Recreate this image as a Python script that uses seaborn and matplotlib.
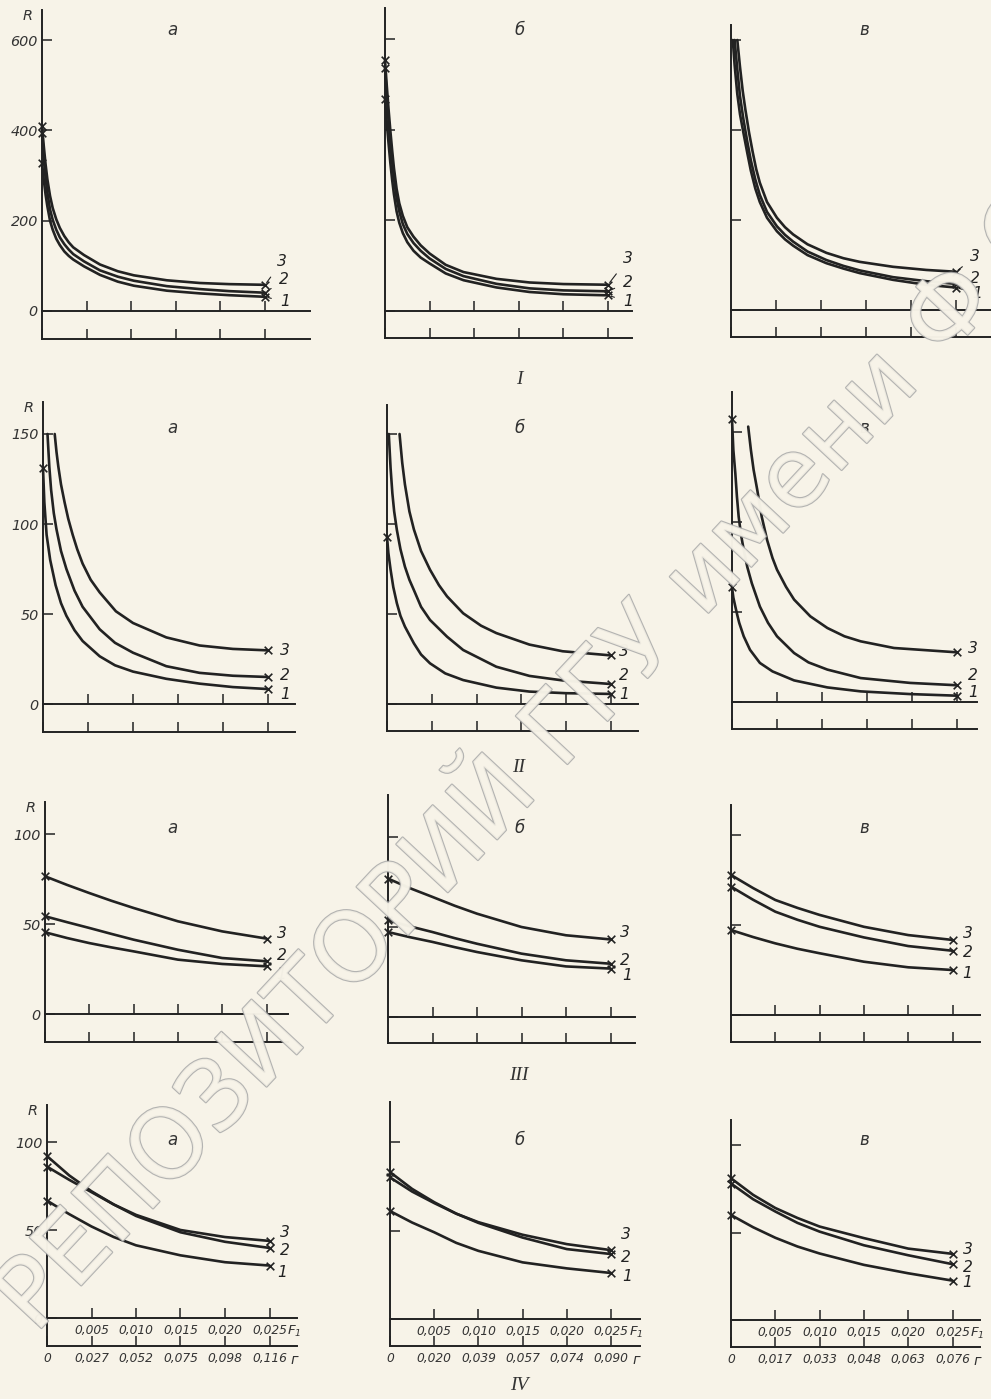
import matplotlib
matplotlib.use("Agg")
import matplotlib.pyplot as plt
import matplotlib.patheffects as pe
from matplotlib import font_manager
import pandas as pd
import seaborn as sns

# ---------------- data ----------------
# panel I
I_A_F = [0, 0.0002, 0.0004, 0.0006, 0.0009, 0.0012, 0.0016, 0.002, 0.0025, 0.003, 0.0035,
         0.0047, 0.0065, 0.0085, 0.0103, 0.014, 0.0177, 0.021, 0.025]
I_A_R1 = [328, 290, 258, 232, 200, 180, 160, 146, 132, 122, 114, 99, 80, 65, 56, 45, 39, 35, 31.5]
I_A_R2 = [395, 340, 295, 262, 225, 202, 180, 163, 148, 136, 126, 110, 90, 76, 67, 55, 48.5, 44, 40.5]
I_A_R3 = [410, 365, 325, 292, 255, 228, 203, 184, 166, 152, 141, 124, 103, 88, 79, 68, 62, 59.5, 58]

I_B_F = [0, 0.0002, 0.0004, 0.0006, 0.0008, 0.001, 0.0013, 0.0016, 0.002, 0.0025, 0.0032,
         0.004, 0.005, 0.0068, 0.0088, 0.0125, 0.0162, 0.020, 0.025]
I_B_R1 = [469, 415, 370, 327, 290, 258, 220, 195, 172, 152, 133, 118, 105, 83, 68, 52, 42, 37, 34.6]
I_B_R2 = [536, 475, 420, 372, 330, 293, 250, 220, 192, 170, 150, 133, 116, 93, 77, 60, 50, 45.5, 43.5]
I_B_R3 = [554, 497, 445, 398, 355, 316, 270, 238, 210, 185, 164, 145, 127, 102, 86, 71, 63, 59.5, 58]

I_V_F1 = [0.0002, 0.0004, 0.0007, 0.001, 0.00137, 0.0018, 0.0022, 0.0027, 0.0032, 0.004,
          0.0051, 0.006, 0.0069, 0.0085, 0.0106, 0.0125, 0.0143, 0.018, 0.0217, 0.025]
I_V_R1 = [600, 545, 480, 435, 395, 350, 310, 270, 240, 205, 175, 157, 143, 122, 104, 92, 82, 67, 56, 50]
I_V_F2 = [0.0004, 0.0007, 0.001, 0.00137, 0.0018, 0.0022, 0.0027, 0.0032, 0.004, 0.0051,
          0.006, 0.0069, 0.0085, 0.0106, 0.0125, 0.0143, 0.018, 0.0217, 0.025]
I_V_R2 = [600, 535, 475, 425, 375, 333, 290, 256, 218, 186, 167, 152, 130, 111, 98, 88, 73, 64, 58]
I_V_F3 = [0.0007, 0.001, 0.0013, 0.0016, 0.002, 0.0024, 0.0028, 0.0032, 0.004, 0.0051,
          0.006, 0.0069, 0.0085, 0.0106, 0.0125, 0.0143, 0.018, 0.0217, 0.025]
I_V_R3 = [600, 540, 487, 445, 395, 352, 313, 283, 240, 205, 184, 168, 146, 127, 115, 107, 96, 89, 85]

# panel II
II_A_F1 = [0, 0.00015, 0.0004, 0.0008, 0.0014, 0.002, 0.0026, 0.0035, 0.0044, 0.0063, 0.008,
           0.010, 0.0137, 0.0174, 0.0211, 0.025]
II_A_R1 = [131, 112, 94, 80, 66, 56, 49, 41, 35, 26.5, 21.5, 18, 14, 11.3, 9.4, 8.3]
II_A_F2 = [0.0005, 0.0007, 0.0009, 0.0012, 0.0015, 0.002, 0.0026, 0.0035, 0.0044, 0.0063,
           0.008, 0.010, 0.0137, 0.0174, 0.0211, 0.025]
II_A_R2 = [150, 132, 119, 106, 97, 85, 75, 63, 54, 41.5, 34, 28.5, 21, 17.3, 15.7, 15]
II_A_F3 = [0.0013, 0.0015, 0.0017, 0.002, 0.0024, 0.0028, 0.0033, 0.0038, 0.0044, 0.0053,
           0.0063, 0.0081, 0.010, 0.0137, 0.0174, 0.0211, 0.025]
II_A_R3 = [150, 140, 132, 122, 112, 103, 94, 86, 78, 69, 62, 51.5, 45, 37, 32.5, 30.6, 29.8]

II_B_F1 = [0, 0.00015, 0.0004, 0.0007, 0.0011, 0.0015, 0.002, 0.003, 0.0038, 0.0048, 0.0065,
           0.0085, 0.0122, 0.0159, 0.020, 0.025]
II_B_R1 = [93, 84, 74.6, 65, 56, 49, 43, 33.7, 27.5, 22.6, 17, 13.3, 9.1, 6.9, 6, 5.6]
II_B_F2 = [0.0002, 0.0004, 0.0006, 0.0008, 0.0011, 0.0015, 0.002, 0.0025, 0.003, 0.0038,
           0.0048, 0.0067, 0.0085, 0.0122, 0.0159, 0.0196, 0.025]
II_B_R2 = [150, 131, 117, 107, 96.7, 86, 76.3, 69, 63.3, 54, 46.7, 37.4, 30, 20.7, 15.6, 13.1, 11.1]
II_B_F3 = [0.0014, 0.0017, 0.002, 0.0025, 0.003, 0.0038, 0.0048, 0.0058, 0.0067, 0.0085,
           0.0105, 0.0122, 0.0159, 0.0196, 0.025]
II_B_R3 = [150, 134, 122, 107, 97, 85, 74.6, 66, 59.8, 50.4, 43.5, 39.4, 33, 29.3, 27]

II_V_F1 = [0, 0.00015, 0.00037, 0.0006, 0.0008, 0.0013, 0.002, 0.0031, 0.0045, 0.0069,
           0.0106, 0.0143, 0.0198, 0.025]
II_V_R1 = [63.7, 58, 53, 48, 44, 36.5, 29, 21.7, 17, 12, 8.1, 5.9, 4.4, 3.5]
II_V_F2 = [0, 0.00015, 0.00037, 0.00055, 0.00074, 0.001, 0.0013, 0.0017, 0.0022, 0.0031,
           0.004, 0.005, 0.0069, 0.0085, 0.0106, 0.0143, 0.0198, 0.025]
II_V_R2 = [157, 140, 127, 114, 103, 93, 84.6, 75, 66, 53, 44, 36.5, 27.2, 22, 18, 13.3, 10.6, 9.3]
II_V_F3 = [0.0018, 0.0021, 0.0024, 0.0028, 0.0033, 0.0039, 0.0045, 0.005, 0.006, 0.0069,
           0.0087, 0.0106, 0.0125, 0.0143, 0.018, 0.025]
II_V_R3 = [153, 140, 129, 118, 103, 90, 80, 73.5, 64, 56.9, 47.6, 41.1, 36.5, 33.7, 30, 27.6]

# panels III and IV share one F grid
F_GRID = [0, 0.0025, 0.005, 0.0075, 0.010, 0.015, 0.020, 0.025]
III_A_R1 = [45.4, 42.2, 39.4, 37, 34.8, 30.2, 27.8, 26.5]
III_A_R2 = [54.3, 51, 47.8, 44.5, 41.3, 35.7, 31.1, 29.3]
III_A_R3 = [76.5, 71.7, 67.2, 62.9, 58.9, 51.5, 45.9, 41.9]
III_B_R1 = [47.2, 44.3, 41.7, 38.8, 36.1, 31.5, 28.1, 26.9]
III_B_R2 = [53.7, 50.3, 47.2, 43.8, 40.7, 35.2, 31.5, 29.6]
III_B_R3 = [76.9, 71.5, 66.7, 61.8, 57.4, 50, 45.4, 43.1]
III_V_R1 = [47.2, 43.3, 39.8, 36.8, 34.3, 29.6, 26.5, 25]
III_V_R2 = [71.3, 64, 57.4, 52.9, 49, 43.1, 38.3, 35.7]
III_V_R3 = [77.8, 70.5, 63.9, 59.5, 55.6, 49, 44.4, 41.7]

IV_A_R1 = [66.7, 59, 52, 46, 41.3, 35.6, 31.7, 29.8]
IV_A_R2 = [92, 81, 72, 64.5, 58, 48.7, 43.3, 39.8]
IV_A_R3 = [86, 78.5, 71.5, 64.5, 58.6, 50, 46, 43.8]
IV_B_R1 = [61, 54.5, 49, 43, 38.5, 32, 28.6, 26]
IV_B_R2 = [83, 73.5, 66, 59.5, 54.3, 46, 39.5, 36.7]
IV_B_R3 = [80, 72, 65.5, 59.5, 54.7, 47.6, 42.3, 38.9]
IV_V_R1 = [60, 53, 47, 42, 38, 31.5, 26.7, 22.5]
IV_V_R2 = [78, 69, 62, 55.5, 50.5, 42.7, 37, 31.9]
IV_V_R3 = [81, 71.5, 64, 58.3, 53.4, 46.8, 40.8, 37.8]

F_TICKS = [0.005, 0.010, 0.015, 0.020, 0.025]
F_LABELS = ["0,005", "0,010", "0,015", "0,020", "0,025"]
G_LABELS_A = ["0", "0,027", "0,052", "0,075", "0,098", "0,116"]
G_LABELS_B = ["0", "0,020", "0,039", "0,057", "0,074", "0,090"]
G_LABELS_V = ["0", "0,017", "0,033", "0,048", "0,063", "0,076"]

ROW_YTICKS = {"I": [0, 200, 400, 600], "II": [0, 50, 100, 150], "III": [0, 50, 100], "IV": [0, 50, 100]}
LETTERS = {"a": "а", "b": "б", "v": "в"}

PANELS = [
    ("I", "a", [(I_A_F, I_A_R1), (I_A_F, I_A_R2), (I_A_F, I_A_R3)]),
    ("I", "b", [(I_B_F, I_B_R1), (I_B_F, I_B_R2), (I_B_F, I_B_R3)]),
    ("I", "v", [(I_V_F1, I_V_R1), (I_V_F2, I_V_R2), (I_V_F3, I_V_R3)]),
    ("II", "a", [(II_A_F1, II_A_R1), (II_A_F2, II_A_R2), (II_A_F3, II_A_R3)]),
    ("II", "b", [(II_B_F1, II_B_R1), (II_B_F2, II_B_R2), (II_B_F3, II_B_R3)]),
    ("II", "v", [(II_V_F1, II_V_R1), (II_V_F2, II_V_R2), (II_V_F3, II_V_R3)]),
    ("III", "a", [(F_GRID, III_A_R1), (F_GRID, III_A_R2), (F_GRID, III_A_R3)]),
    ("III", "b", [(F_GRID, III_B_R1), (F_GRID, III_B_R2), (F_GRID, III_B_R3)]),
    ("III", "v", [(F_GRID, III_V_R1), (F_GRID, III_V_R2), (F_GRID, III_V_R3)]),
    ("IV", "a", [(F_GRID, IV_A_R1), (F_GRID, IV_A_R2), (F_GRID, IV_A_R3)]),
    ("IV", "b", [(F_GRID, IV_B_R1), (F_GRID, IV_B_R2), (F_GRID, IV_B_R3)]),
    ("IV", "v", [(F_GRID, IV_V_R1), (F_GRID, IV_V_R2), (F_GRID, IV_V_R3)]),
]

# ---------------- layout (pixels of the 991x1399 page) ----------------
W, H = 991, 1399
# x0, xend, ytop, yzero, ylow, px per 0.005 of F, px per unit of R
GEOM = {
    ("I", "a"): (42, 310, 10, 311, 339, 44.6, 90.3 / 200),
    ("I", "b"): (385, 632, 8, 311, 338, 44.6, 0.4528),
    ("I", "v"): (731, 995, 25, 310, 337, 45.0, 0.45),
    ("II", "a"): (43, 295, 402, 704, 732, 45.0, 1.8),
    ("II", "b"): (387, 638, 405, 704, 731, 44.8, 1.8),
    ("II", "v"): (732, 977, 392, 702, 729, 45.0, 1.8),
    ("III", "a"): (45, 288, 802, 1014, 1042, 44.3, 1.8),
    ("III", "b"): (388, 635, 795, 1017, 1043, 44.5, 1.8),
    ("III", "v"): (731, 980, 805, 1015, 1042, 44.3, 1.8),
    ("IV", "a"): (47, 297, 1105, 1318, 1346, 44.5, 1.76),
    ("IV", "b"): (390, 640, 1102, 1319, 1346, 44.2, 1.77),
    ("IV", "v"): (731, 980, 1120, 1320, 1347, 44.3, 1.75),
}
LETTER_POS = {"I": 30, "II": 428, "III": 828, "IV": 1140}
LETTER_X = {"a": 172, "b": 520, "v": 864}
ROMAN_POS = {"I": 380, "II": 768, "III": 1076, "IV": 1386}
# curve-number offsets from the end cross, px (dx, dy downwards), curves 1..3
NUM_OFF = {
    ("I", "a"): [(15, 5), (14, -13), (12, -23)],
    ("I", "b"): [(15, 6), (15, -9), (15, -26)],
    ("I", "v"): [(16, 6), (14, -5), (14, -15)],
    ("II", "a"): [(12, 5), (12, -2), (12, 0)],
    ("II", "b"): [(8, 1), (8, -9), (8, -4)],
    ("II", "v"): [(11, -3), (11, -10), (11, -4)],
    ("III", "a"): [(10, 8), (10, -6), (10, -5)],
    ("III", "b"): [(12, 7), (9, -3), (9, -7)],
    ("III", "v"): [(10, 3), (10, 2), (10, -6)],
    ("IV", "a"): [(8, 7), (10, 3), (10, -8)],
    ("IV", "b"): [(11, 4), (10, 3), (10, -16)],
    ("IV", "v"): [(10, 2), (10, 3), (10, -4)],
}

PAPER = "#f7f3e8"
INK = "#222222"
PT = 72 / 100  # points per pixel at dpi 100

sns.set_theme(style="white")
names = {f.name for f in font_manager.fontManager.ttflist}
if "Liberation Sans Narrow" in names:
    SANS = ["Liberation Sans Narrow", "DejaVu Sans"]
    K = 1.0
else:
    SANS = ["DejaVu Sans"]
    K = 0.8
plt.rcParams["font.family"] = SANS
plt.rcParams["font.style"] = "italic"
plt.rcParams["mathtext.fontset"] = "dejavusans"

fig = plt.figure(figsize=(W / 100, H / 100), dpi=100, facecolor=PAPER)

for row, col, curves in PANELS:
    x0, xend, ytop, yzero, ylow, dxf, pxr = GEOM[(row, col)]
    ax = fig.add_axes([x0 / W, 1 - ylow / H, (xend - x0) / W, (ylow - ytop) / H])
    ax.set_facecolor("none")
    ax.set_xlim(0, (xend - x0) / dxf * 0.005)
    ax.set_ylim(-(ylow - yzero) / pxr, (yzero - ytop) / pxr)

    frames = []
    for k, (f, r) in enumerate(curves, start=1):
        frames.append(pd.DataFrame({"F": f, "R": r, "curve": k}))
    df = pd.concat(frames, ignore_index=True)
    sns.lineplot(data=df, x="F", y="R", units="curve", estimator=None, sort=False,
                 color=INK, lw=1.9, ax=ax, clip_on=False)

    ends = df.groupby("curve").tail(1)
    starts = df.groupby("curve").head(1)
    starts = starts[starts["F"] == 0]
    marks = pd.concat([ends, starts])
    sns.scatterplot(data=marks, x="F", y="R", marker="x", s=30, color=INK,
                    linewidth=1.2, ax=ax, zorder=4, clip_on=False)

    for _, e in ends.iterrows():
        k = int(e["curve"])
        dx, dy = NUM_OFF[(row, col)][k - 1]
        kw = {}
        if row == "I":
            kw["arrowprops"] = dict(arrowstyle="-", color=INK, lw=0.8, shrinkA=4, shrinkB=2)
        ax.annotate(str(k), xy=(e["F"], e["R"]), xytext=(dx * PT, -dy * PT),
                    textcoords="offset points", ha="left", va="center",
                    fontsize=14 * K, color=INK, annotation_clip=False, **kw)

    # frame: vertical R axis and the lower (г) line
    for s in ("top", "right"):
        ax.spines[s].set_visible(False)
    for s in ("left", "bottom"):
        ax.spines[s].set_color(INK)
        ax.spines[s].set_linewidth(1.4)

    ax.set_yticks(ROW_YTICKS[row])
    ax.tick_params(axis="y", direction="in", length=7, width=1.1, color=INK,
                   pad=3, labelsize=13 * K, labelcolor="#333333", left=True,
                   labelleft=(col == "a"))
    ax.set_xticks([0] + F_TICKS)
    ax.tick_params(axis="x", direction="in", length=7, width=1.1, color=INK,
                   pad=4, labelsize=11 * K, labelcolor="#333333", bottom=True)
    ax.set_xlabel("")
    ax.set_ylabel("")

    # F line at R = 0
    sec = ax.secondary_xaxis(0, transform=ax.transData)
    sec.spines["bottom"].set_color(INK)
    sec.spines["bottom"].set_linewidth(1.4)
    sec.set_xticks(F_TICKS)
    sec.tick_params(axis="x", direction="in", length=7, width=1.1, color=INK,
                    pad=4, labelsize=11 * K, labelcolor="#333333")

    if row == "IV":
        glab = {"a": G_LABELS_A, "b": G_LABELS_B, "v": G_LABELS_V}[col]
        ax.set_xticklabels(glab)
        sec.set_xticklabels(F_LABELS)
        last = F_TICKS[-1]
        ax.annotate("г", xy=(last, 0), xycoords=("data", "axes fraction"),
                    xytext=(25 * PT, -14 * PT), textcoords="offset points",
                    ha="center", va="center", fontsize=13 * K, color="#333333",
                    annotation_clip=False)
        ax.annotate(r"$\mathit{F}_1$", xy=(last, 0), xytext=(25 * PT, -13 * PT),
                    textcoords="offset points", ha="center", va="center",
                    fontsize=12 * K, color="#333333", annotation_clip=False)
    else:
        ax.set_xticklabels([])
        sec.set_xticklabels([])

    if col == "a":
        ax.annotate("R", xy=(0, 1), xycoords="axes fraction", xytext=(-14 * PT, -6 * PT),
                    textcoords="offset points", ha="center", va="center",
                    fontsize=13 * K, color="#333333")

    fig.text(LETTER_X[col] / W, 1 - LETTER_POS[row] / H, LETTERS[col],
             ha="center", va="center", fontsize=15 * K, color="#333333")

for row, y in ROMAN_POS.items():
    fig.text(519 / W, 1 - y / H, row, ha="center", va="center", fontsize=14,
             family=["Liberation Serif", "DejaVu Serif"], style="italic", color="#333333")

# repository watermark
fig.text(35 / W, 1 - 1335 / H, "РЕПОЗИТОРИЙ ГГУ имени Ф.Скорины", rotation=47,
         rotation_mode="anchor", ha="left", va="baseline", fontsize=87 * K,
         family=SANS, style="normal", color=PAPER, alpha=0.85, zorder=6,
         path_effects=[pe.withStroke(linewidth=1.6, foreground="#a8a8a8")])

fig.savefig("out.png", dpi=100, facecolor=PAPER)
